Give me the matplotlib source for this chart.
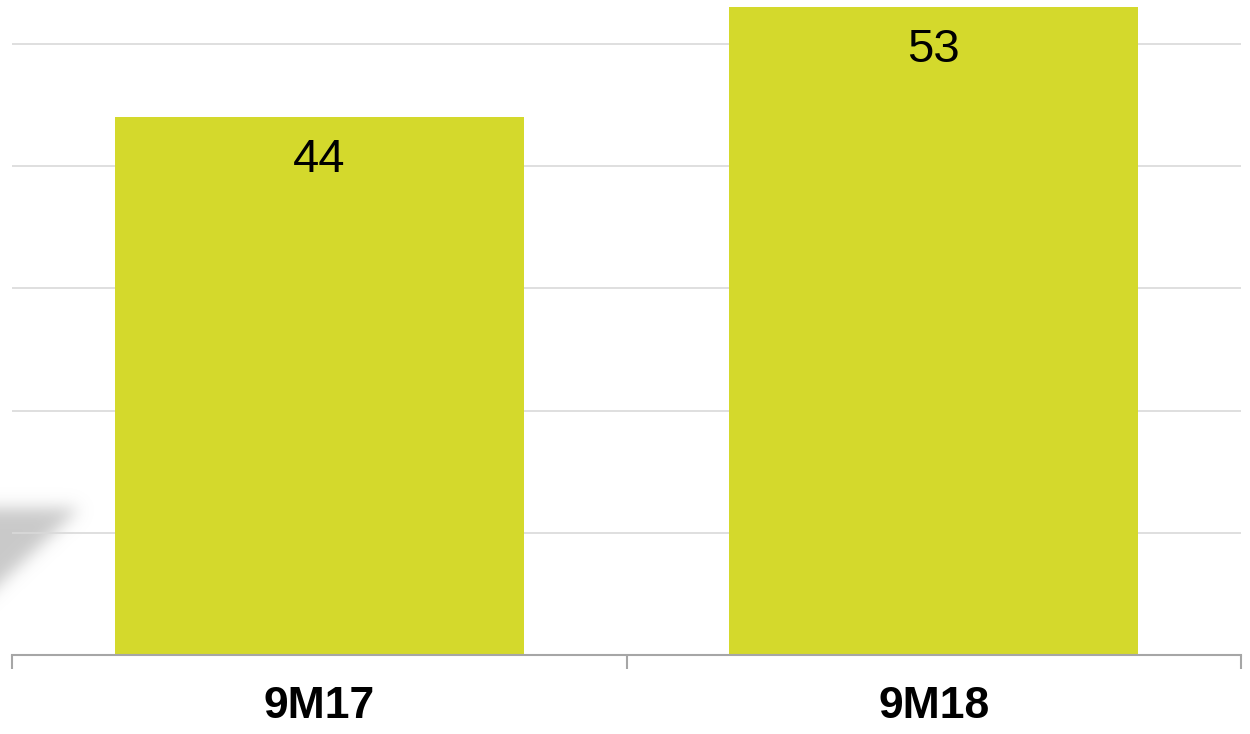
import matplotlib
matplotlib.use('Agg')
from matplotlib import pyplot as plt
from matplotlib.path import Path
import numpy as np

plt.rcParams['font.family'] = ['Liberation Sans', 'DejaVu Sans']

periods = ['9M17', '9M18']
values = [44, 53]
bar_color = '#D4D92C'

W, H = 1250, 734
fig = plt.figure(figsize=(W / 100, H / 100), dpi=100)

# soft grey wedge peeking in at the left edge (blurred logo fragment)
gx, gy = np.meshgrid(np.arange(-40, 120), np.arange(150))
wedge = Path([(-40, 27), (80, 27), (-40, 140)])
mask = wedge.contains_points(np.c_[gx.ravel(), gy.ravel()]).reshape(gx.shape).astype(float)
k = np.exp(-0.5 * (np.arange(-30, 31) / 8.0) ** 2)
k /= k.sum()
mask = np.apply_along_axis(lambda r: np.convolve(r, k, mode='same'), 1, mask)
mask = np.apply_along_axis(lambda c: np.convolve(c, k, mode='same'), 0, mask)
mask = mask[:, 40:]
rgba = np.zeros(mask.shape + (4,))
rgba[..., :3] = 0.74
rgba[..., 3] = np.clip(mask * 0.8, 0, 1)
bg = fig.add_axes([0, (H - 630) / H, 120 / W, 150 / H], zorder=0)
bg.imshow(rgba, interpolation='bilinear', aspect='auto')
bg.axis('off')

ax = fig.add_axes([12 / W, 79 / H, 1229 / W, 655 / H], zorder=1)
ax.set_facecolor('none')

x = np.arange(len(periods))
bars = ax.bar(x, values, width=0.666, color=bar_color, zorder=2)

# value labels sit inside the bar, just under its top
for rect, v in zip(bars, values):
    ax.annotate(str(v), (rect.get_x() + rect.get_width() / 2, v),
                xytext=(0, -31), textcoords='offset points',
                ha='center', va='center', fontsize=34, color='black')

ax.set_xlim(-0.5, len(periods) - 0.5)
ax.set_ylim(0, 53.6)
ax.set_yticks([10, 20, 30, 40, 50])
ax.yaxis.grid(True, color='#D9D9D9', linewidth=1.2, zorder=0)
ax.tick_params(axis='y', left=False, labelleft=False)

# category boundary ticks below the axis line
ax.set_xticks(np.arange(-0.5, len(periods), 1.0))
ax.set_xticklabels([])
ax.tick_params(axis='x', direction='out', length=10, width=1.5, color='#A6A6A6')
ax.set_xticks(x, minor=True)
ax.set_xticklabels(periods, minor=True, fontsize=32, fontweight='bold')
ax.tick_params(axis='x', which='minor', length=0, pad=22)

for side in ['top', 'right', 'left']:
    ax.spines[side].set_visible(False)
ax.spines['bottom'].set_color('#A6A6A6')
ax.spines['bottom'].set_linewidth(1.5)
ax.spines['bottom'].set_zorder(3)

fig.savefig('out.png', dpi=100)
